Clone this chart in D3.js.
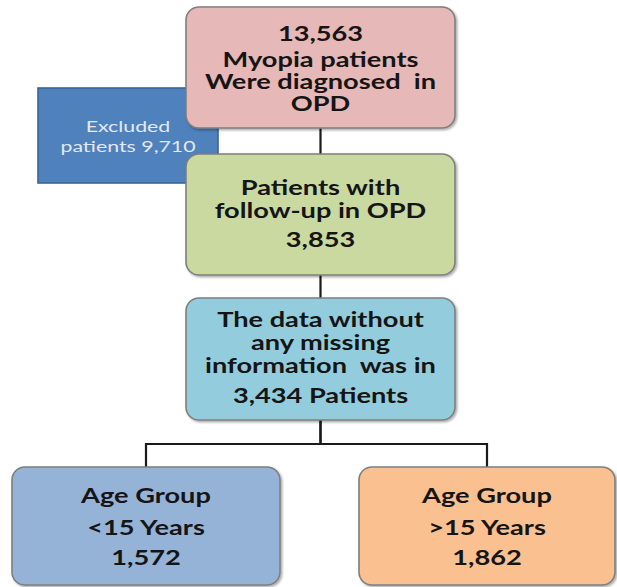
<!DOCTYPE html>
<html>
<head>
<meta charset="utf-8">
<script src="https://cdn.jsdelivr.net/npm/d3@7"></script>
<style>
  body { margin: 0; background: #fff; }
  svg { display: block; }
</style>
</head>
<body>
<div id="flow"></div>
<script>
// flowchart content
const nodeIds = ["total", "excluded", "followup", "complete", "under15", "over15"];
const nodeLines = [
    ["13,563", "Myopia patients", "Were diagnosed  in", "OPD"],
    ["Excluded", "patients 9,710"],
    ["Patients with", "follow-up in OPD", "3,853"],
    ["The data without", "any missing", "information  was in", "3,434 Patients"],
    ["Age Group", "<15 Years", "1,572"],
    ["Age Group", ">15 Years", "1,862"]
];
const links = [["total", "followup"], ["followup", "complete"], ["complete", "under15"], ["complete", "over15"]];

// layout (boxes in pixels)
const layout = {
    total:    { x: 186, y: 7,   w: 269, h: 121, fill: "#e6b8b7", baselines: [41, 67, 89, 111] },
    excluded: { x: 38,  y: 88,  w: 180, h: 95,  fill: "#4f81bd", baselines: [132, 152] },
    followup: { x: 186, y: 154, w: 269, h: 121, fill: "#c9d99f", baselines: [195, 218, 247] },
    complete: { x: 186, y: 298, w: 269, h: 122, fill: "#93cddd", baselines: [327, 350, 373, 403] },
    under15:  { x: 12,  y: 467, w: 268, h: 118, fill: "#95b3d7", baselines: [503, 535, 565] },
    over15:   { x: 359, y: 467, w: 256, h: 118, fill: "#fac090", baselines: [503, 535, 565] }
};

const width = 617, height = 587;

const svg = d3.select("#flow")
    .append("svg")
    .attr("width", width)
    .attr("height", height);

const defs = svg.append("defs");
const shadow = defs.append("filter").attr("id", "shadow")
    .attr("x", "-5%").attr("y", "-5%").attr("width", "115%").attr("height", "115%");
shadow.append("feDropShadow")
    .attr("dx", 1.5).attr("dy", 1.5).attr("stdDeviation", 1.2)
    .attr("flood-color", "#000").attr("flood-opacity", 0.35);

const nodes = nodeIds.map((id, i) => Object.assign({ id: id, lines: nodeLines[i] }, layout[id]));
const byId = {};
nodes.forEach(n => byId[n.id] = n);

// connectors
const branchY = 444;
const lineG = svg.append("g").attr("stroke", "#1a1a1a").attr("stroke-width", 2.2).attr("fill", "none");
links.forEach(([a, b]) => {
    const s = byId[a], t = byId[b];
    const sx = s.x + s.w / 2, tx = t.x + t.w / 2;
    let path = d3.path();
    if (Math.abs(sx - tx) < 2) {
        path.moveTo(sx, s.y + s.h);
        path.lineTo(sx, t.y);
    } else {
        path.moveTo(sx, s.y + s.h);
        path.lineTo(sx, branchY);
        path.lineTo(tx, branchY);
        path.lineTo(tx, t.y);
    }
    lineG.append("path").attr("d", path.toString());
});

// excluded box goes behind the main column
const order = ["excluded", "total", "followup", "complete", "under15", "over15"];
const boxG = svg.append("g")
    .selectAll("g.node")
    .data(order.map(id => byId[id]))
    .enter()
    .append("g")
    .attr("class", "node");

boxG.append("rect")
    .attr("x", d => d.x)
    .attr("y", d => d.y)
    .attr("width", d => d.w)
    .attr("height", d => d.h)
    .attr("rx", d => d.id === "excluded" ? 0 : 13)
    .attr("fill", d => d.fill)
    .attr("stroke", d => d.id === "excluded" ? "#3a6496" : "#7f7f7f")
    .attr("stroke-width", 1.6)
    .attr("filter", d => d.id === "excluded" ? null : "url(#shadow)");

boxG.each(function (d) {
    const g = d3.select(this);
    const cx = d.x + d.w / 2;
    const small = d.id === "excluded";
    d.lines.forEach((line, i) => {
        g.append("text")
            .attr("transform", "translate(" + cx + "," + d.baselines[i] + ") scale(" + (small ? 1.47 : 1.36) + ",1)")
            .attr("text-anchor", "middle")
            .attr("xml:space", "preserve")
            .style("font-family", "Lato, 'Open Sans', sans-serif")
            .style("font-weight", small ? 400 : 700)
            .style("font-size", small ? "14.5px" : "20px")
            .style("fill", small ? "#e4e8f0" : "#151515")
            .text(line);
    });
});
</script>
</body>
</html>
